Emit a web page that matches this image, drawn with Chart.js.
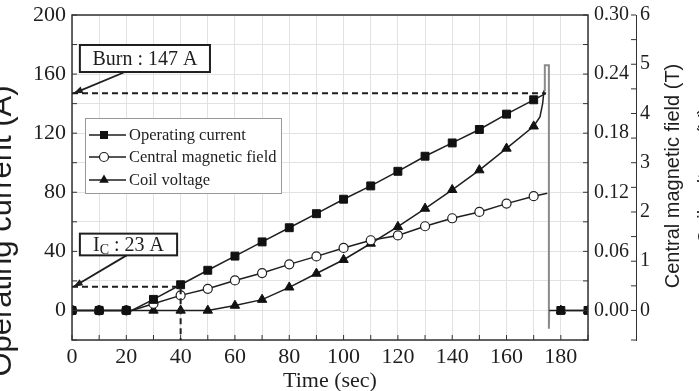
<!DOCTYPE html>
<html>
<head>
<meta charset="utf-8">
<script src="https://cdn.jsdelivr.net/npm/chart.js@4.4.0/dist/chart.umd.min.js"></script>
<style>
  html, body { margin: 0; padding: 0; background: #fff; }
  #wrap { width: 699px; height: 391px; }
</style>
</head>
<body>
<div id="wrap"><canvas id="coilChart" width="699" height="391"></canvas></div>
<script>
// operating current (A) vs time (s); null leaves a gap after the burn
const currentTime = [0, 10, 20, 22, 30, 40, 50, 60, 70, 80, 90, 100, 110, 120, 130, 140, 150, 160, 170, 174.5, 177, 180, 190];
const currentA = [0, 0, 0, 0, 7.5, 17.4, 27.2, 36.8, 46.4, 56, 65.5, 75.3, 84.3, 94.2, 104.4, 113.4, 122.5, 132.9, 142.6, 147, null, 0, 0];

// central magnetic field (T)
const fieldTime = [0, 10, 20, 22, 30, 40, 50, 60, 70, 80, 90, 100, 110, 120, 130, 140, 150, 160, 170, 175];
const fieldT = [0, 0, 0, 0, 0.0068, 0.0153, 0.022, 0.0305, 0.038, 0.0468, 0.0549, 0.0635, 0.0713, 0.0762, 0.0855, 0.0936, 0.100, 0.1085, 0.116, 0.119];

// coil voltage (V), with the quench spike near 174-176 s
const voltTime = [0, 10, 20, 30, 40, 50, 60, 70, 80, 90, 100, 110, 120, 130, 140, 150, 160, 170, 172.3, 173.3, 173.8, 174.1, 175.6, 175.6, 175.7, 180, 190];
const voltV = [0, 0, 0, 0, 0, 0, 0.10, 0.22, 0.47, 0.75, 1.03, 1.36, 1.70, 2.07, 2.45, 2.85, 3.29, 3.74, 3.93, 4.2, 4.47, 4.98, 4.98, -0.37, 0, 0, 0];

// annotation values
const burnCurrent = 147;
const burnTime = 174.5;
const criticalCurrent = 16;
const criticalTime = 40;

// tick labels
const xTickLabels = [0, 20, 40, 60, 80, 100, 120, 140, 160, 180];
const currentTickLabels = [0, 40, 80, 120, 160, 200];
const fieldTickLabels = [0, 0.06, 0.12, 0.18, 0.24, 0.30];
const voltTickLabels = [0, 1, 2, 3, 4, 5, 6];

const ink = '#1e1e1e';
const serif = '"Liberation Serif", "Times New Roman", serif';
const sans = '"Liberation Sans", Arial, sans-serif';

Chart.defaults.font.family = serif;
Chart.defaults.color = ink;

function toPoints(xs, ys) {
  return xs.map((t, i) => ({ x: t, y: ys[i] }));
}

function markerRadius(r) {
  return ctx => (ctx.raw && ctx.raw.y !== null && ctx.raw.x % 10 === 0) ? r : 0;
}

function hasLabel(list, v) {
  return list.some(t => Math.abs(t - v) < 1e-6);
}

// fixed axis sizes so the plot area sits where the original one does
function fixWidth(w) {
  return s => { s.width = w; s.paddingTop = 0; s.paddingBottom = 0; };
}

function drawMarker(ctx, style, cx, cy) {
  ctx.beginPath();
  if (style === 'rect') {
    ctx.rect(cx - 4, cy - 4, 8, 8);
    ctx.fillStyle = '#111';
    ctx.fill();
  } else if (style === 'circle') {
    ctx.arc(cx, cy, 4.5, 0, Math.PI * 2);
    ctx.fillStyle = '#fff';
    ctx.fill();
    ctx.lineWidth = 1.2;
    ctx.strokeStyle = ink;
    ctx.stroke();
  } else {
    ctx.moveTo(cx, cy - 5.5);
    ctx.lineTo(cx + 4.8, cy + 2.8);
    ctx.lineTo(cx - 4.8, cy + 2.8);
    ctx.closePath();
    ctx.fillStyle = '#111';
    ctx.fill();
  }
}

function arrow(ctx, x1, y1, x2, y2) {
  ctx.beginPath();
  ctx.moveTo(x1, y1);
  ctx.lineTo(x2, y2);
  ctx.stroke();
  const ang = Math.atan2(y2 - y1, x2 - x1);
  const len = 9, half = 3.5;
  ctx.beginPath();
  ctx.moveTo(x2, y2);
  ctx.lineTo(x2 - len * Math.cos(ang) + half * Math.sin(ang), y2 - len * Math.sin(ang) - half * Math.cos(ang));
  ctx.lineTo(x2 - len * Math.cos(ang) - half * Math.sin(ang), y2 - len * Math.sin(ang) + half * Math.cos(ang));
  ctx.closePath();
  ctx.fill();
}

const decorPlugin = {
  id: 'decor',
  afterDatasetsDraw(chart) {
    const { ctx, chartArea: a, scales } = chart;
    const sx = scales.x, sy = scales.y, sf = scales.yF, sv = scales.yV;
    ctx.save();

    // frame
    ctx.strokeStyle = '#333';
    ctx.lineWidth = 1.5;
    ctx.strokeRect(a.left, a.top, a.right - a.left, a.bottom - a.top);

    // inward tick marks
    ctx.lineWidth = 1;
    ctx.beginPath();
    sx.ticks.forEach(t => {
      const px = sx.getPixelForValue(t.value);
      ctx.moveTo(px, a.bottom); ctx.lineTo(px, a.bottom - 5);
    });
    sy.ticks.forEach(t => {
      const py = sy.getPixelForValue(t.value);
      ctx.moveTo(a.left, py); ctx.lineTo(a.left + 5, py);
    });
    sf.ticks.forEach(t => {
      const py = sf.getPixelForValue(t.value);
      ctx.moveTo(a.right, py); ctx.lineTo(a.right - 5, py);
    });
    sv.ticks.forEach(t => {
      const py = sv.getPixelForValue(t.value);
      ctx.moveTo(sv.left, py); ctx.lineTo(sv.left - 5, py);
    });
    ctx.stroke();

    // dashed guide lines
    ctx.strokeStyle = ink;
    ctx.lineWidth = 2;
    ctx.setLineDash([6, 4]);
    ctx.beginPath();
    ctx.moveTo(sx.getPixelForValue(0), sy.getPixelForValue(burnCurrent));
    ctx.lineTo(sx.getPixelForValue(burnTime), sy.getPixelForValue(burnCurrent));
    ctx.moveTo(sx.getPixelForValue(0), sy.getPixelForValue(criticalCurrent));
    ctx.lineTo(sx.getPixelForValue(criticalTime), sy.getPixelForValue(criticalCurrent));
    ctx.lineTo(sx.getPixelForValue(criticalTime), a.bottom);
    ctx.stroke();
    ctx.setLineDash([]);

    // label boxes
    function box(x1, y1, x2, y2) {
      const l = sx.getPixelForValue(x1), r = sx.getPixelForValue(x2);
      const t = sy.getPixelForValue(y1), b = sy.getPixelForValue(y2);
      ctx.fillStyle = '#fff';
      ctx.fillRect(l, t, r - l, b - t);
      ctx.lineWidth = 2;
      ctx.strokeStyle = ink;
      ctx.strokeRect(l, t, r - l, b - t);
      return { cx: (l + r) / 2, cy: (t + b) / 2 };
    }
    ctx.font = '20px ' + serif;
    ctx.textBaseline = 'middle';

    const burnBox = box(2.9, 179.7, 50.8, 161.4);
    ctx.fillStyle = ink;
    ctx.textAlign = 'center';
    ctx.fillText('Burn : 147 A', burnBox.cx, burnBox.cy + 1);

    const icBox = box(2.9, 52, 38.7, 37.3);
    ctx.fillStyle = ink;
    ctx.textAlign = 'left';
    const wI = ctx.measureText('I').width;
    const rest = ' : 23 A';
    const wRest = ctx.measureText(rest).width;
    ctx.font = '14px ' + serif;
    const wC = ctx.measureText('C').width;
    let tx = icBox.cx - (wI + wC + wRest) / 2;
    ctx.font = '20px ' + serif;
    ctx.fillText('I', tx, icBox.cy + 1);
    ctx.font = '14px ' + serif;
    ctx.fillText('C', tx + wI, icBox.cy + 6);
    ctx.font = '20px ' + serif;
    ctx.fillText(rest, tx + wI + wC, icBox.cy + 1);

    // arrows
    ctx.strokeStyle = ink;
    ctx.fillStyle = ink;
    ctx.lineWidth = 1.8;
    arrow(ctx, sx.getPixelForValue(19.5), sy.getPixelForValue(161.4), sx.getPixelForValue(0.6), sy.getPixelForValue(burnCurrent));
    arrow(ctx, sx.getPixelForValue(20.1), sy.getPixelForValue(37.3), sx.getPixelForValue(0.6), sy.getPixelForValue(criticalCurrent));

    // legend
    ctx.fillStyle = '#fff';
    ctx.fillRect(85, 118, 196, 75);
    ctx.strokeStyle = '#999';
    ctx.lineWidth = 1;
    ctx.strokeRect(85.5, 118.5, 196, 75);
    const entries = [
      ['rect', 'Operating current', 135],
      ['circle', 'Central magnetic field', 157],
      ['triangle', 'Coil voltage', 180]
    ];
    entries.forEach(([style, label, ly]) => {
      ctx.strokeStyle = ink;
      ctx.lineWidth = 1.5;
      ctx.beginPath();
      ctx.moveTo(89, ly); ctx.lineTo(126, ly);
      ctx.stroke();
      drawMarker(ctx, style, 104, ly);
      ctx.fillStyle = ink;
      ctx.font = '16.5px ' + serif;
      ctx.textAlign = 'left';
      ctx.textBaseline = 'middle';
      ctx.fillText(label, 129, ly + 1);
    });

    // axis titles
    function vtext(text, font, cx, cy) {
      ctx.save();
      ctx.translate(cx, cy);
      ctx.rotate(-Math.PI / 2);
      ctx.font = font;
      ctx.fillStyle = ink;
      ctx.textAlign = 'center';
      ctx.textBaseline = 'middle';
      ctx.fillText(text, 0, 0);
      ctx.restore();
    }
    vtext('Operating current (A)', '31px ' + sans, 2, 231);
    vtext('Central magnetic field (T)', '20px ' + sans, 673, 176);
    vtext('Coil voltage (V)', '20px ' + sans, 706, 176);

    ctx.restore();
  }
};

const ctx = document.getElementById('coilChart').getContext('2d');

new Chart(ctx, {
  type: 'line',
  data: {
    datasets: [
      {
        label: 'Operating current',
        data: toPoints(currentTime, currentA),
        yAxisID: 'y',
        borderColor: ink,
        borderWidth: 1.5,
        pointStyle: 'rect',
        pointRadius: markerRadius(5.6),
        pointBackgroundColor: '#111',
        pointBorderColor: '#111',
        pointBorderWidth: 1,
        spanGaps: false,
        clip: 0
      },
      {
        label: 'Central magnetic field',
        data: toPoints(fieldTime, fieldT),
        yAxisID: 'yF',
        borderColor: ink,
        borderWidth: 1.5,
        pointStyle: 'circle',
        pointRadius: markerRadius(4.5),
        pointBackgroundColor: '#fff',
        pointBorderColor: ink,
        pointBorderWidth: 1.2,
        clip: 0
      },
      {
        label: 'Coil voltage',
        data: toPoints(voltTime, voltV),
        yAxisID: 'yV',
        borderColor: ink,
        borderWidth: 1.5,
        pointStyle: 'triangle',
        pointRadius: markerRadius(5.4),
        pointBackgroundColor: '#111',
        pointBorderColor: '#111',
        pointBorderWidth: 1,
        segment: {
          borderColor: c => (c.p0.parsed.x >= 173.8 && c.p0.parsed.x < 175.7) ? '#8a8a8a' : ink,
          borderWidth: c => (c.p0.parsed.x >= 173.8 && c.p0.parsed.x < 175.7) ? 2 : 1.5
        },
        clip: 0
      }
    ]
  },
  options: {
    responsive: false,
    animation: false,
    events: [],
    layout: { padding: { top: 15, left: 0, right: 0, bottom: 0 } },
    plugins: {
      legend: { display: false },
      tooltip: { enabled: false }
    },
    elements: { line: { tension: 0 } },
    scales: {
      x: {
        type: 'linear',
        min: 0,
        max: 190,
        afterFit: s => { s.height = 51; s.paddingLeft = 0; s.paddingRight = 0; },
        grid: { color: '#e2e2e2', drawTicks: false },
        border: { display: false },
        ticks: {
          stepSize: 10,
          autoSkip: false,
          maxRotation: 0,
          padding: 4,
          font: { size: 22 },
          color: ink,
          callback: v => hasLabel(xTickLabels, v) ? String(v) : ''
        },
        title: {
          display: true,
          text: 'Time (sec)',
          font: { size: 22 },
          color: ink,
          padding: { top: 0, bottom: -3 }
        }
      },
      y: {
        position: 'left',
        min: -20,
        max: 200,
        afterFit: fixWidth(72),
        grid: { color: '#e2e2e2', drawTicks: false },
        border: { display: false },
        ticks: {
          stepSize: 20,
          autoSkip: false,
          padding: 6,
          font: { size: 22 },
          color: ink,
          callback: v => hasLabel(currentTickLabels, v) ? String(v) : ''
        }
      },
      yF: {
        position: 'right',
        min: -0.03,
        max: 0.30,
        afterFit: fixWidth(48),
        grid: { display: false, drawTicks: false },
        border: { display: false },
        ticks: {
          stepSize: 0.03,
          autoSkip: false,
          padding: 6,
          font: { size: 20 },
          color: ink,
          callback: v => hasLabel(fieldTickLabels, v) ? Math.abs(v).toFixed(2) : ''
        }
      },
      yV: {
        position: 'right',
        min: -0.6,
        max: 6,
        afterFit: fixWidth(63),
        grid: { display: false, drawTicks: false },
        border: { display: true, color: '#333', width: 1 },
        ticks: {
          stepSize: 0.5,
          autoSkip: false,
          padding: 4,
          font: { size: 20 },
          color: ink,
          callback: v => hasLabel(voltTickLabels, v) ? String(Math.round(v)) : ''
        }
      }
    }
  },
  plugins: [decorPlugin]
});
</script>
</body>
</html>
